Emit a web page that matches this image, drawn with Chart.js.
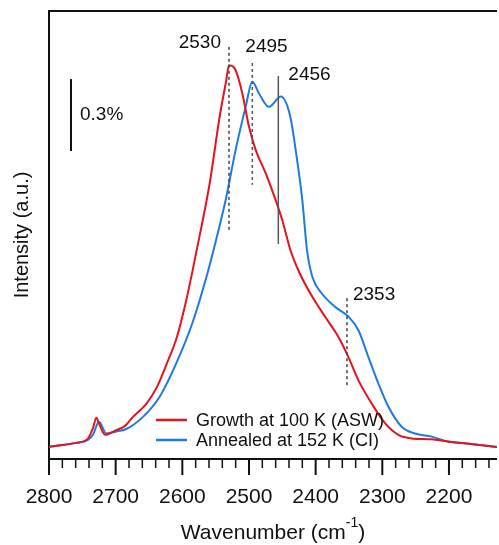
<!DOCTYPE html>
<html>
<head>
<meta charset="utf-8">
<script src="https://cdn.jsdelivr.net/npm/chart.js@4.4.1/dist/chart.umd.min.js"></script>
<style>
  html, body { margin: 0; padding: 0; background: #fff; overflow: hidden; }
</style>
</head>
<body>
<canvas id="chart" width="499" height="545"></canvas>
<script>
// growth at 100 K (ASW)
const growthWavenumber = [2800, 2780, 2760, 2742, 2734, 2729, 2724, 2716, 2700, 2686, 2674, 2654, 2638, 2623, 2608, 2594, 2579, 2559, 2544, 2534, 2530, 2524, 2520, 2510, 2500, 2490, 2475, 2460, 2450, 2438, 2425, 2405, 2386, 2366, 2351, 2336, 2316, 2296, 2276, 2256, 2226, 2202, 2177, 2128];
const growthIntensity = [2.7, 3.1, 3.6, 4.5, 6.9, 9.2, 7.6, 5.4, 6.4, 7.4, 9.4, 12.3, 16.1, 21.4, 27.3, 35.5, 46.2, 61.5, 76.4, 84.6, 87.9, 87.6, 86.8, 81.6, 74.2, 69.0, 63.8, 57.8, 53.3, 46.7, 41.8, 36.2, 31.8, 27.3, 22.8, 17.6, 12.4, 8.0, 5.4, 4.6, 4.4, 3.9, 3.5, 2.7];

// annealed at 152 K (CI)
const annealedWavenumber = [2800, 2780, 2760, 2742, 2734, 2725, 2714, 2700, 2684, 2659, 2634, 2609, 2585, 2565, 2550, 2535, 2520, 2505, 2495, 2485, 2470, 2452, 2438, 2430, 2420, 2413, 2405, 2391, 2371, 2351, 2336, 2321, 2306, 2291, 2271, 2251, 2226, 2202, 2177, 2128];
const annealedIntensity = [2.7, 3.1, 3.6, 4.2, 5.4, 8.3, 5.7, 6.1, 6.7, 9.4, 13.9, 21.4, 30.3, 40.0, 48.5, 57.8, 69.0, 78.6, 84.2, 81.6, 78.6, 80.9, 76.4, 69.0, 57.8, 46.7, 40.7, 37.0, 34.0, 31.8, 28.8, 22.8, 16.9, 11.7, 7.2, 5.7, 5.0, 3.9, 3.5, 2.7];

const seriesNames = ["Growth at 100 K (ASW)", "Annealed at 152 K (CI)"];
const seriesColors = ["#e3141c", "#1f7ae0"];
const peakLabels = [2530, 2495, 2456, 2353];
const scaleBarLabel = "0.3%";

const FONT = "'Liberation Sans', Arial, sans-serif";
const INK = "#111";

const toPoints = (xs, ys) => xs.map((v, i) => ({ x: v, y: ys[i] }));

// drawing details for each peak marker: line span (y units), dash, label offset
const peakStyle = [
  { from: 51.1, to: 92.0, dash: [3, 3], color: "#444", align: "right", dx: -8, dy: -4 },
  { from: 61.2, to: 88.4, dash: [3, 3], color: "#555", align: "left", dx: -7, dy: -16 },
  { from: 48.0, to: 85.5, dash: [], color: "#555", align: "left", dx: 10, dy: -1 },
  { from: 16.1, to: 35.9, dash: [3, 3], color: "#444", align: "left", dx: 6, dy: -3 },
];

const overlay = {
  id: "overlay",
  afterDraw(chart) {
    const { ctx, chartArea, scales } = chart;
    const x = scales.x, y = scales.y;
    ctx.save();

    // tick marks below the axis
    ctx.strokeStyle = INK;
    x.ticks.forEach((t) => {
      const major = t.value % 100 === 0;
      const px = x.getPixelForValue(t.value);
      ctx.lineWidth = major ? 2 : 1.5;
      ctx.beginPath();
      ctx.moveTo(px, chartArea.bottom);
      ctx.lineTo(px, chartArea.bottom + (major ? 16 : 9));
      ctx.stroke();
    });

    // peak markers
    ctx.font = "19px " + FONT;
    ctx.textBaseline = "middle";
    peakLabels.forEach((p, i) => {
      const s = peakStyle[i];
      const px = x.getPixelForValue(p);
      const top = y.getPixelForValue(s.to);
      ctx.strokeStyle = s.color;
      ctx.lineWidth = 1.5;
      ctx.setLineDash(s.dash);
      ctx.beginPath();
      ctx.moveTo(px, top);
      ctx.lineTo(px, y.getPixelForValue(s.from));
      ctx.stroke();
      ctx.setLineDash([]);
      ctx.fillStyle = INK;
      ctx.textAlign = s.align;
      ctx.fillText(String(p), px + s.dx, top + s.dy);
    });

    // intensity scale bar
    const bx = x.getPixelForValue(2767);
    ctx.strokeStyle = INK;
    ctx.lineWidth = 2;
    ctx.beginPath();
    ctx.moveTo(bx, y.getPixelForValue(84.8));
    ctx.lineTo(bx, y.getPixelForValue(68.75));
    ctx.stroke();
    ctx.fillStyle = INK;
    ctx.textAlign = "left";
    ctx.fillText(scaleBarLabel, bx + 9, y.getPixelForValue(76.8));

    // legend inside the plot
    ctx.font = "18px " + FONT;
    chart.data.datasets.forEach((ds, i) => {
      const ly = 420 + i * 20;
      ctx.strokeStyle = ds.borderColor;
      ctx.lineWidth = 2.5;
      ctx.beginPath();
      ctx.moveTo(156, ly);
      ctx.lineTo(187, ly);
      ctx.stroke();
      ctx.fillStyle = INK;
      ctx.fillText(ds.label, 196, ly + 1);
    });

    // x axis title with superscript
    const main = "Wavenumber (cm";
    const sup = "-1";
    const tail = ")";
    ctx.font = "21px " + FONT;
    const w1 = ctx.measureText(main).width;
    const w3 = ctx.measureText(tail).width;
    ctx.font = "14px " + FONT;
    const w2 = ctx.measureText(sup).width;
    const cx = (chartArea.left + chartArea.right) / 2;
    let tx = cx - (w1 + w2 + w3) / 2;
    const ty = 533;
    ctx.textAlign = "left";
    ctx.font = "21px " + FONT;
    ctx.fillText(main, tx, ty);
    tx += w1;
    ctx.font = "14px " + FONT;
    ctx.fillText(sup, tx, ty - 10);
    tx += w2;
    ctx.font = "21px " + FONT;
    ctx.fillText(tail, tx, ty);

    ctx.restore();
  },
};

new Chart(document.getElementById("chart").getContext("2d"), {
  type: "line",
  data: {
    datasets: [
      {
        label: seriesNames[0],
        data: toPoints(growthWavenumber, growthIntensity),
        borderColor: seriesColors[0],
        borderWidth: 2,
        pointRadius: 0,
        cubicInterpolationMode: "monotone",
      },
      {
        label: seriesNames[1],
        data: toPoints(annealedWavenumber, annealedIntensity),
        borderColor: seriesColors[1],
        borderWidth: 2,
        pointRadius: 0,
        cubicInterpolationMode: "monotone",
      },
    ],
  },
  options: {
    responsive: false,
    animation: false,
    devicePixelRatio: 1,
    layout: { padding: 0 },
    plugins: {
      legend: { display: false },
      tooltip: { enabled: false },
    },
    scales: {
      x: {
        type: "linear",
        position: "bottom",
        reverse: true,
        min: 2128,
        max: 2800,
        grid: { display: false, drawTicks: true, tickLength: 16 },
        border: { display: true, color: INK, width: 2 },
        ticks: {
          stepSize: 20,
          autoSkip: false,
          maxRotation: 0,
          includeBounds: false,
          padding: 10,
          color: INK,
          font: { family: FONT, size: 21 },
          callback: (v) => (v % 100 === 0 ? String(v) : ""),
        },
        afterFit: (s) => { s.height = 86; },
      },
      xTop: {
        type: "linear",
        position: "top",
        reverse: true,
        min: 2128,
        max: 2800,
        grid: { display: false, drawTicks: false },
        border: { display: true, color: INK, width: 2 },
        ticks: { display: false },
        afterFit: (s) => { s.height = 11; },
      },
      y: {
        min: 0,
        max: 100,
        grid: { display: false, drawTicks: false },
        border: { display: true, color: INK, width: 2 },
        ticks: { display: false },
        title: {
          display: true,
          text: "Intensity (a.u.)",
          color: INK,
          font: { family: FONT, size: 20 },
          padding: { top: 10, bottom: 0 },
        },
        afterFit: (s) => { s.width = 49; },
      },
    },
  },
  plugins: [overlay],
});
</script>
</body>
</html>
